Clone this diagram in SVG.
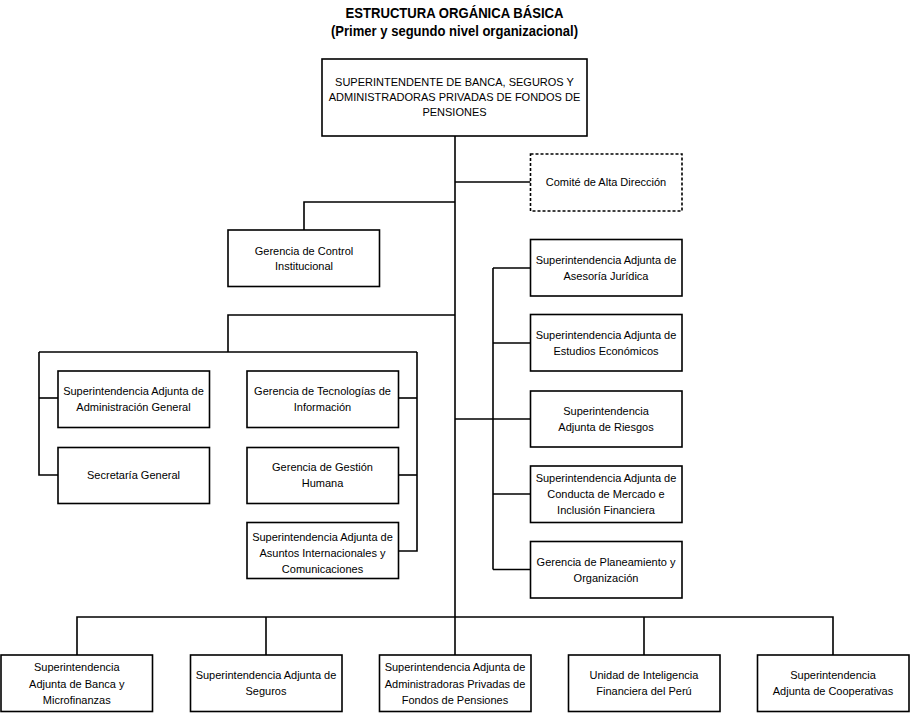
<svg xmlns="http://www.w3.org/2000/svg" width="910" height="713" viewBox="0 0 910 713">
<style>
  .bg { fill: #ffffff; }
  .box { fill: #ffffff; stroke: #000000; stroke-width: 1.6; }
  .dash { fill: #ffffff; stroke: #000000; stroke-width: 1.6; stroke-dasharray: 3 2; }
  .lbl { font-family: "Liberation Sans", Arial, sans-serif; font-size: 11px; fill: #000000; text-anchor: middle; }
  .title { font-family: "Liberation Sans", Arial, sans-serif; font-size: 15px; font-weight: bold; fill: #000000; text-anchor: middle; }
  .conn { fill: none; stroke: #000000; stroke-width: 1.6; }
</style>
<rect class="bg" x="0" y="0" width="910" height="713"/>

<g id="title">
  <text class="title" x="454.5" y="18" textLength="218" lengthAdjust="spacingAndGlyphs">ESTRUCTURA ORGÁNICA BÁSICA</text>
  <text class="title" x="454.5" y="36" textLength="247" lengthAdjust="spacingAndGlyphs">(Primer y segundo nivel organizacional)</text>
</g>

<g id="connectors">
  <!-- main spine -->
  <path class="conn" d="M455,136 V617"/>
  <!-- comite -->
  <path class="conn" d="M455,182 H530.5"/>
  <!-- control -->
  <path class="conn" d="M455,202 H304 V230"/>
  <!-- right column -->
  <path class="conn" d="M493,268 V569.5"/>
  <path class="conn" d="M455,419 H530"/>
  <path class="conn" d="M493,268 H530"/>
  <path class="conn" d="M493,343 H530"/>
  <path class="conn" d="M493,494 H530"/>
  <path class="conn" d="M493,569.5 H530"/>
  <!-- left group -->
  <path class="conn" d="M455,315 H228 V352"/>
  <path class="conn" d="M39,352 H417"/>
  <path class="conn" d="M39,352 V475 H58"/>
  <path class="conn" d="M39,398 H58"/>
  <path class="conn" d="M417,352 V551 H398.5"/>
  <path class="conn" d="M417,398 H398.5"/>
  <path class="conn" d="M417,475 H398.5"/>
  <!-- bottom bus -->
  <path class="conn" d="M77,655 V617 H833 V655"/>
  <path class="conn" d="M266,617 V655"/>
  <path class="conn" d="M455,617 V655"/>
  <path class="conn" d="M644,617 V655"/>
</g>

<g id="n-superintendente">
  <rect class="box" x="322" y="59" width="265" height="77"/>
  <text class="lbl"><tspan x="454.5" y="86">SUPERINTENDENTE DE BANCA, SEGUROS Y</tspan><tspan x="454.5" y="101">ADMINISTRADORAS PRIVADAS DE FONDOS DE</tspan><tspan x="454.5" y="116">PENSIONES</tspan></text>
</g>

<g id="n-comite">
  <rect class="dash" x="530.5" y="154" width="151.5" height="57"/>
  <text class="lbl" x="606" y="186">Comité de Alta Dirección</text>
</g>

<g id="n-control">
  <rect class="box" x="228" y="230" width="151.5" height="56.5"/>
  <text class="lbl"><tspan x="304" y="255">Gerencia de Control</tspan><tspan x="304" y="270">Institucional</tspan></text>
</g>

<g id="n-juridica">
  <rect class="box" x="530.5" y="239.5" width="151.5" height="56.5"/>
  <text class="lbl"><tspan x="606" y="264">Superintendencia Adjunta de</tspan><tspan x="606" y="279.5">Asesoría Jurídica</tspan></text>
</g>

<g id="n-economicos">
  <rect class="box" x="530.5" y="314.5" width="151.5" height="56.5"/>
  <text class="lbl"><tspan x="606" y="339">Superintendencia Adjunta de</tspan><tspan x="606" y="354.5">Estudios Económicos</tspan></text>
</g>

<g id="n-riesgos">
  <rect class="box" x="530.5" y="391" width="151.5" height="56"/>
  <text class="lbl"><tspan x="606" y="415">Superintendencia</tspan><tspan x="606" y="430.5">Adjunta de Riesgos</tspan></text>
</g>

<g id="n-conducta">
  <rect class="box" x="530.5" y="466" width="151.5" height="56.5"/>
  <text class="lbl"><tspan x="606" y="482">Superintendencia Adjunta de</tspan><tspan x="606" y="498">Conducta de Mercado e</tspan><tspan x="606" y="514">Inclusión Financiera</tspan></text>
</g>

<g id="n-planeamiento">
  <rect class="box" x="530.5" y="541.5" width="151.5" height="56.5"/>
  <text class="lbl"><tspan x="606" y="566">Gerencia de Planeamiento y</tspan><tspan x="606" y="581.5">Organización</tspan></text>
</g>

<g id="n-administracion">
  <rect class="box" x="58" y="371" width="151.5" height="56.5"/>
  <text class="lbl"><tspan x="133.5" y="395">Superintendencia Adjunta de</tspan><tspan x="133.5" y="411">Administración General</tspan></text>
</g>

<g id="n-secretaria">
  <rect class="box" x="58" y="447.5" width="151.5" height="56"/>
  <text class="lbl" x="133.5" y="479">Secretaría General</text>
</g>

<g id="n-tecnologias">
  <rect class="box" x="247" y="371" width="151.5" height="56.5"/>
  <text class="lbl"><tspan x="322.5" y="395">Gerencia de Tecnologías de</tspan><tspan x="322.5" y="411">Información</tspan></text>
</g>

<g id="n-gestion">
  <rect class="box" x="247" y="447.5" width="151.5" height="56"/>
  <text class="lbl"><tspan x="322.5" y="471">Gerencia de Gestión</tspan><tspan x="322.5" y="486.5">Humana</tspan></text>
</g>

<g id="n-internacionales">
  <rect class="box" x="247" y="522.5" width="151.5" height="56"/>
  <text class="lbl"><tspan x="322.5" y="540.5">Superintendencia Adjunta de</tspan><tspan x="322.5" y="557">Asuntos Internacionales y</tspan><tspan x="322.5" y="573">Comunicaciones</tspan></text>
</g>

<g id="n-banca">
  <rect class="box" x="1" y="655" width="151.5" height="56.5"/>
  <text class="lbl"><tspan x="76.75" y="671">Superintendencia</tspan><tspan x="76.75" y="687.5">Adjunta de Banca y</tspan><tspan x="76.75" y="703.5">Microfinanzas</tspan></text>
</g>

<g id="n-seguros">
  <rect class="box" x="190.5" y="655" width="151.5" height="56.5"/>
  <text class="lbl"><tspan x="266" y="679">Superintendencia Adjunta de</tspan><tspan x="266" y="695">Seguros</tspan></text>
</g>

<g id="n-afp">
  <rect class="box" x="379.5" y="655" width="151.5" height="56.5"/>
  <text class="lbl"><tspan x="455" y="671">Superintendencia Adjunta de</tspan><tspan x="455" y="687.5">Administradoras Privadas de</tspan><tspan x="455" y="703.5">Fondos de Pensiones</tspan></text>
</g>

<g id="n-uif">
  <rect class="box" x="568.5" y="655" width="151.5" height="56.5"/>
  <text class="lbl"><tspan x="644" y="679">Unidad de Inteligencia</tspan><tspan x="644" y="695">Financiera del Perú</tspan></text>
</g>

<g id="n-cooperativas">
  <rect class="box" x="757.5" y="655" width="151.5" height="56.5"/>
  <text class="lbl"><tspan x="833" y="679">Superintendencia</tspan><tspan x="833" y="695">Adjunta de Cooperativas</tspan></text>
</g>
</svg>
